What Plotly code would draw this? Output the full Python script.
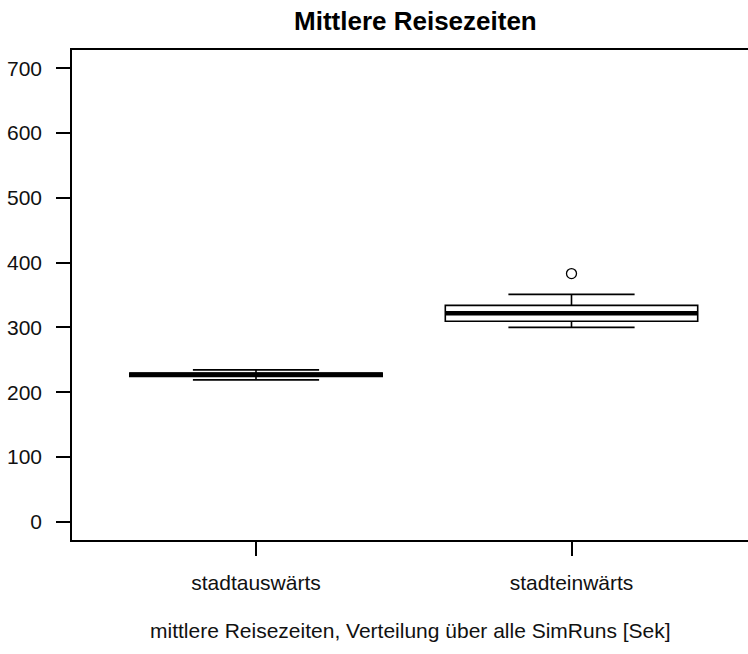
import plotly.graph_objects as go

# ---- data ----
categories = ["stadtauswärts", "stadteinwärts"]
positions = [1, 2]
q1_vals = [224.5, 309.5]
median_vals = [227.0, 322.0]
q3_vals = [229.5, 334.0]
lower_whisker = [219.0, 300.0]
upper_whisker = [234.5, 351.0]
outlier_pos = [2]
outlier_vals = [383.0]
y_ticks = [0, 100, 200, 300, 400, 500, 600, 700]

title_text = "Mittlere Reisezeiten"
xlab_text = "mittlere Reisezeiten, Verteilung über alle SimRuns [Sek]"

FONT = "Liberation Sans, Arial, sans-serif"
box_w = 0.8

fig = go.Figure()

for p, a, m, b, lo, hi in zip(positions, q1_vals, median_vals, q3_vals, lower_whisker, upper_whisker):
    fig.add_trace(go.Box(
        x=[p], q1=[a], median=[m], q3=[b], lowerfence=[lo], upperfence=[hi],
        width=box_w, whiskerwidth=0.5, boxpoints=False,
        line=dict(color="black", width=1.6), fillcolor="white",
        showlegend=False, hoverinfo="skip",
    ))
    # thick median line (R style)
    fig.add_trace(go.Scatter(
        x=[p - box_w / 2, p + box_w / 2], y=[m, m], mode="lines",
        line=dict(color="black", width=4.5), showlegend=False, hoverinfo="skip",
    ))

fig.add_trace(go.Scatter(
    x=outlier_pos, y=outlier_vals, mode="markers",
    marker=dict(symbol="circle-open", size=10, color="black", line=dict(width=1.3)),
    showlegend=False, hoverinfo="skip",
))

W, H = 748, 654
left, top, bottom_px = 72, 50, 540
# R-like layout: centres at 256 px and 571.5 px
c1, step = 256.0, 315.5
x_lo = 1 - (c1 - left) / step
x_hi = 1 + (W - c1) / step

fig.update_layout(
    width=W, height=H,
    margin=dict(l=left, r=0, t=top, b=H - bottom_px),
    plot_bgcolor="white", paper_bgcolor="white",
    font=dict(family=FONT, size=21, color="black"),
    showlegend=False,
    xaxis=dict(
        range=[x_lo, x_hi], tickvals=positions, ticktext=categories,
        showgrid=False, zeroline=False, showline=True, mirror=True,
        linecolor="black", linewidth=1.6,
        ticks="outside", ticklen=14, tickwidth=1.6, tickcolor="black",
        ticklabelstandoff=9,
        tickfont=dict(family=FONT, size=21, color="#111"),
    ),
    yaxis=dict(
        range=[-28, 728], tickvals=y_ticks,
        showgrid=False, zeroline=False, showline=True, mirror=False,
        linecolor="black", linewidth=1.6,
        ticks="outside", ticklen=14, tickwidth=1.6, tickcolor="black",
        ticklabelstandoff=10,
        tickfont=dict(family=FONT, size=21, color="#111"),
    ),
    annotations=[
        dict(text="<b>" + title_text + "</b>", xref="paper", yref="paper",
             x=(415 - left) / (W - left), y=1 + (top - 21) / (bottom_px - top),
             xanchor="center", yanchor="middle", showarrow=False,
             font=dict(family=FONT, size=26, color="black")),
        dict(text=xlab_text, xref="paper", yref="paper",
             x=(410 - left) / (W - left), y=-(630 - bottom_px) / (bottom_px - top),
             xanchor="center", yanchor="middle", showarrow=False,
             font=dict(family=FONT, size=21, color="#111")),
    ],
)

fig.write_html("out.html")
